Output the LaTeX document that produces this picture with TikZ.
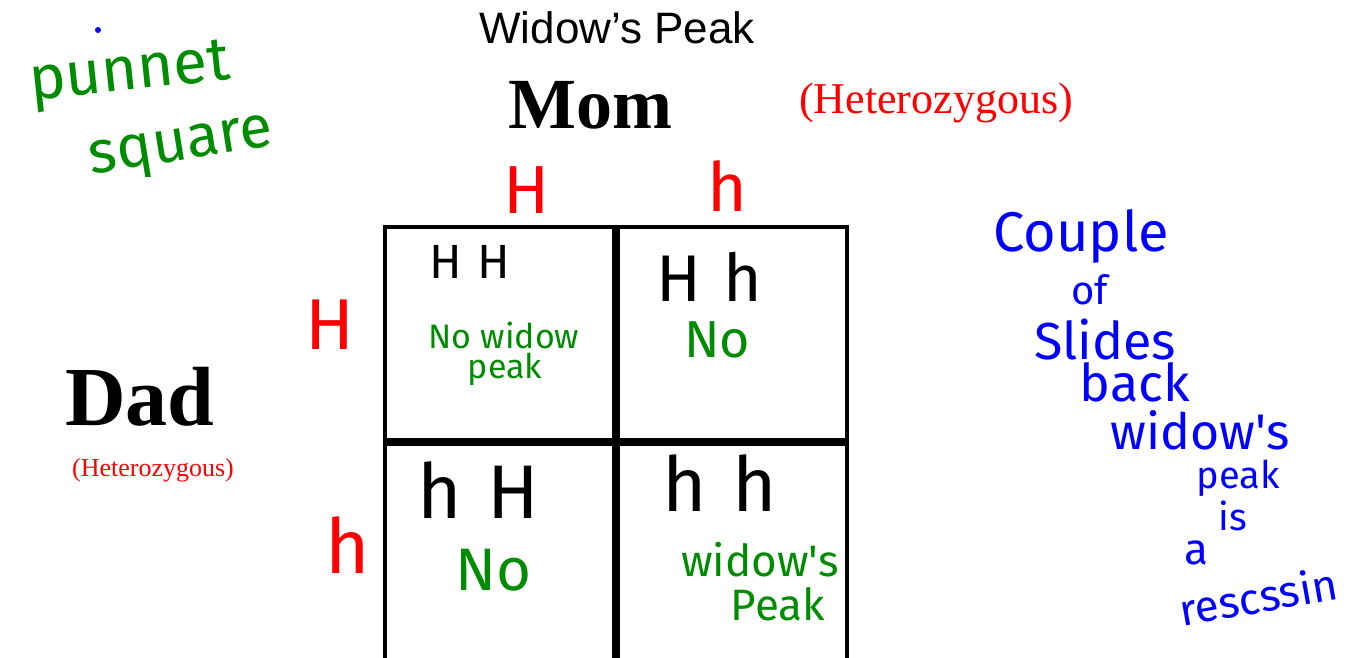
\documentclass[tikz,border=0pt]{standalone}
\usepackage{fontspec}
\setmainfont{Liberation Serif}
\setsansfont{Liberation Sans}
\newfontfamily\handfont{Fira Sans}

\definecolor{penred}{RGB}{255,0,0}
\definecolor{pengreen}{RGB}{0,140,0}
\definecolor{penblue}{RGB}{0,0,255}

\tikzset{
  cellbox/.style={line width=2.25pt, draw=black},
  hand/.style={inner sep=0.75pt, font=\handfont},
}

\begin{document}
\begin{tikzpicture}[x=0.5pt,y=0.5pt,yscale=-1,xscale=1]
\useasboundingbox (0,0) rectangle (1346,658);
\clip (0,0) rectangle (1346,658);

%Shape: Square cells
\draw [cellbox] (385,227) rectangle (614,440) ;
\draw [cellbox] (618,227) rectangle (847,440) ;
\draw [cellbox] (385,444) rectangle (614,680) ;
\draw [cellbox] (618,444) rectangle (847,680) ;

% Title
\draw (617,28) node [inner sep=0.75pt] (title) {\sffamily\fontsize{22}{26}\selectfont Widow's Peak};
% Parents
\draw (590,105) node [inner sep=0.75pt] (mom) {\bfseries\fontsize{36}{40}\selectfont Mom};
\draw (936,103) node [inner sep=0.75pt, text=penred] (momtype) {\fontsize{22}{26}\selectfont (Heterozygous)};
\draw (140,397) node [inner sep=0.75pt] (dad) {\bfseries\fontsize{42}{46}\selectfont Dad};
\draw (153,470) node [inner sep=0.75pt, text=penred] (dadtype) {\fontsize{13}{15}\selectfont (Heterozygous)};

% Alleles
\draw (527,190) node [hand, text=penred] (momA) {\fontsize{34}{36}\selectfont H};
\draw (727,186) node [hand, text=penred] (momB) {\fontsize{34}{36}\selectfont h};
\draw (330,325) node [hand, text=penred] (dadA) {\fontsize{36}{38}\selectfont H};
\draw (348,545) node [hand, text=penred] (dadB) {\fontsize{38}{40}\selectfont h};

% Cell texts
\draw (470,262) node [hand] (gTL) {\fontsize{24}{26}\selectfont H\,\,H};
\draw (504,335) node [hand, text=pengreen] (pTLa) {\fontsize{17}{19}\selectfont No widow};
\draw (505,369) node [hand, text=pengreen] (pTLb) {\fontsize{17}{19}\selectfont peak};
\draw (709,277) node [hand] (gTR) {\fontsize{33}{35}\selectfont H\,\,h};
\draw (717,340) node [hand, text=pengreen] (pTR) {\fontsize{26}{28}\selectfont No};
\draw (478,490) node [hand] (gBL) {\fontsize{38}{40}\selectfont h\,\,H};
\draw (494,570) node [hand, text=pengreen] (pBL) {\fontsize{30}{32}\selectfont No};
\draw (720,483) node [hand] (gBR) {\fontsize{38}{40}\selectfont h\,\,h};
\draw (760,560) node [hand, text=pengreen] (pBRa) {\fontsize{22}{24}\selectfont widow's};
\draw (778,604) node [hand, text=pengreen] (pBRb) {\fontsize{22}{24}\selectfont Peak};

% Side notes
\draw (130,76) node [hand, text=pengreen, rotate=6] (noteA) {\fontsize{31}{33}\selectfont punnet};
\draw (182,150) node [hand, text=pengreen, rotate=9] (noteB) {\fontsize{30}{32}\selectfont square};
\fill [penblue] (98,30) circle (3) ;

\draw (1081,236) node [hand, text=penblue] (blA) {\fontsize{28}{30}\selectfont Couple};
\draw (1090,290) node [hand, text=penblue] (blB) {\fontsize{20}{22}\selectfont of};
\draw (1105,340) node [hand, text=penblue] (blC) {\fontsize{26}{28}\selectfont Slides};
\draw (1135,382) node [hand, text=penblue] (blD) {\fontsize{26}{28}\selectfont back};
\draw (1200,430) node [hand, text=penblue] (blE) {\fontsize{25}{27}\selectfont widow's};
\draw (1238,478) node [hand, text=penblue] (blF) {\fontsize{19}{21}\selectfont peak};
\draw (1233,516) node [hand, text=penblue] (blG) {\fontsize{19}{21}\selectfont is};
\draw (1196,553) node [hand, text=penblue] (blH) {\fontsize{22}{24}\selectfont a};
\draw (1258,596) node [hand, text=penblue, rotate=10] (blI) {\fontsize{22}{24}\selectfont rescssin};

\end{tikzpicture}
\end{document}
